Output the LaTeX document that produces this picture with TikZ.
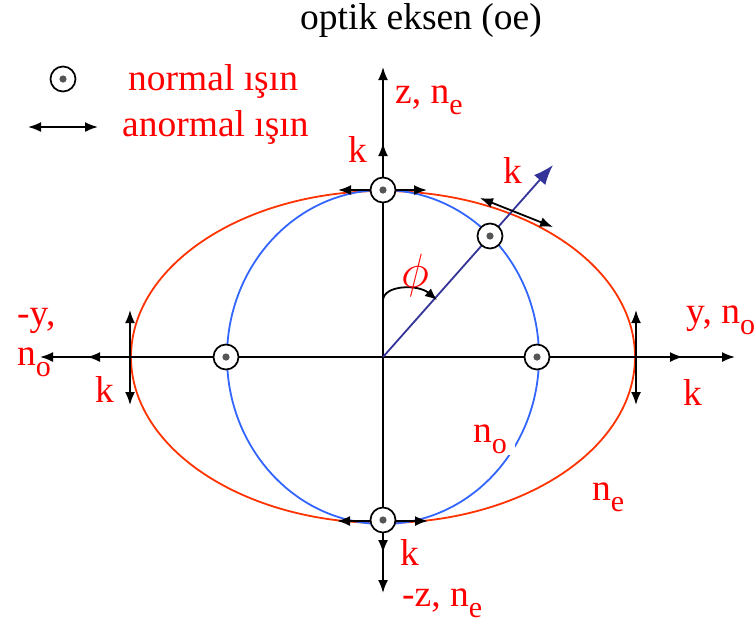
\documentclass[tikz,border=0pt]{standalone}
\usepackage{fix-cm}
\usepackage{graphicx}
\usepackage{fontspec}
\setmainfont{Liberation Serif}
\usetikzlibrary{arrows.meta}
\definecolor{ered}{HTML}{FF3300}
\definecolor{oblue}{HTML}{3366FF}
\definecolor{navyd}{HTML}{333399}
\definecolor{dotgray}{HTML}{555555}
\newcommand{\sbs}[1]{\raisebox{-11pt}{\fontsize{30}{31}\selectfont #1}}
\begin{document}
\begin{tikzpicture}[x=1pt,y=-1pt,
  tip/.tip={Latex[length=13pt,width=10pt]},
  ax/.style={line width=1.8pt,-tip},
  dax/.style={line width=1.8pt,tip-tip},
  lbl/.style={text=red,font=\fontsize{37.5}{40}\selectfont,inner sep=0pt,anchor=base west},
  marker/.style={circle,draw=black,line width=1.7pt,fill=white,minimum size=25pt,inner sep=0pt,
    path picture={\fill[dotgray] (path picture bounding box.center) circle (3.6pt);}}]
\useasboundingbox (0,0) rectangle (756,625);
% coordinates
\coordinate (O) at (383,357);
\coordinate (zt) at (383,67);
\coordinate (zb) at (383,593);
\coordinate (yl) at (40,357);
\coordinate (yr) at (735,357);
\coordinate (kt) at (383,143);
\coordinate (kb) at (383,553);
\coordinate (kl) at (87,357);
\coordinate (kr) at (683,357);
\coordinate (el) at (130,357);
\coordinate (er) at (636,357);
\coordinate (ct) at (383,190);
\coordinate (cb) at (383,520);
\coordinate (dk) at (553,165);
% ellipses
\draw[ered,line width=1.8pt] (O) ellipse [x radius=252pt, y radius=166pt];
\draw[oblue,line width=1.8pt] (O) ellipse [x radius=156pt, y radius=167pt];
% axes
\draw[ax] (O) -- (zt);
\draw[ax] (O) -- (zb);
\draw[ax] (O) -- (yl);
\draw[ax] (O) -- (yr);
\draw[ax] (ct) -- (kt);
\draw[ax] (cb) -- (kb);
\draw[ax] (el) -- (kl);
\draw[ax] (er) -- (kr);
% extraordinary polarisation arrows
\coordinate (tl) at (338,190); \coordinate (tr) at (427,190);
\coordinate (bl) at (337,521); \coordinate (br) at (428,521);
\coordinate (lu) at (130,310); \coordinate (ld) at (130,405);
\coordinate (ru) at (636,310); \coordinate (rd) at (636,405);
\coordinate (gl) at (480,198); \coordinate (gr) at (553,227);
\draw[dax] (tl) -- (tr);
\draw[dax] (bl) -- (br);
\draw[dax] (lu) -- (ld);
\draw[dax] (ru) -- (rd);
% diagonal k
\draw[navyd,line width=1.8pt,-{Latex[length=20pt,width=15pt]}] (O) -- (dk);
\draw[dax] (gl) -- (gr);
% phi arc
\coordinate (pa) at (383,300);
\coordinate (pb) at (437,300);
\draw[line width=1.8pt,-{Latex[length=12pt,width=10pt]}] (pa) .. controls (384,285) and (418,284) .. (pb);
% markers
\node[marker] (mt) at (ct) {};
\node[marker] (mb) at (cb) {};
\node[marker] (ml) at (226,357) {};
\node[marker] (mr) at (537,357) {};
\node[marker] (md) at (490,236) {};
% legend
\node[marker] (lm) at (63,79) {};
\coordinate (la) at (28,127); \coordinate (lb) at (98,127);
\draw[dax] (la) -- (lb);
\node[lbl] (lt1) at (128,90) {normal ışın};
\node[lbl] (lt2) at (122,136) {anormal ışın};
% labels
\node[lbl,text=black] (title) at (300,29) {optik eksen (oe)};
\node[lbl] (lz) at (395,103) {z, n\sbs{e}};
\node[lbl] (lk1) at (348,162) {k};
\node[lbl] (lk2) at (503,183) {k};
\node[text=red,inner sep=0pt,font=\fontsize{24}{26}\selectfont] (phi) at (415,275) {\scalebox{2.0}{$\phi$}};
\node[lbl] (lmy) at (17,325) {-y,};
\node[lbl] (lno) at (17,365) {n\sbs{o}};
\node[lbl] (lk3) at (95,402) {k};
\node[lbl] (ly) at (686,323) {y, n\sbs{o}};
\node[lbl] (lk4) at (683,405) {k};
\node[lbl,fill=white,inner xsep=8pt,inner ysep=2pt] (lnoi) at (465,442) {n\sbs{o}};
\node[lbl] (lne) at (592,500) {n\sbs{e}};
\node[lbl] (lk5) at (400,565) {k};
\node[lbl] (lmz) at (402,606) {-z, n\sbs{e}};
\end{tikzpicture}
\end{document}
